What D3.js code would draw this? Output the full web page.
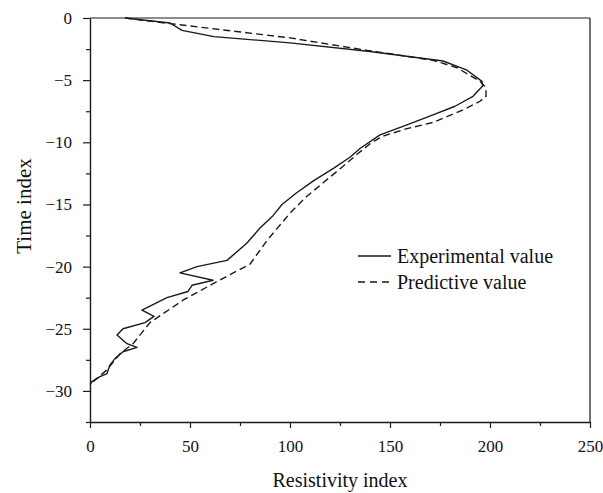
<!DOCTYPE html>
<html>
<head>
<meta charset="utf-8">
<script src="https://cdn.jsdelivr.net/npm/d3@7"></script>
<style>
  body { margin: 0; background: #fff; }
  svg text { font-family: "Liberation Serif", "Times New Roman", serif; fill: #111; }
</style>
</head>
<body>
<div id="chart"></div>
<script>
// Experimental value (solid)
const expValue = [17.5, 40, 46, 62, 100, 140, 176.5, 188.5, 196, 196.3, 191.5, 182.5, 171.5, 158.5, 145, 135, 130, 121.7, 111.7, 103, 96, 91.5, 85, 78.5, 68.5, 53.5, 45, 61.5, 51, 49, 38.5, 26, 32, 27.5, 16.5, 13.5, 18.5, 23.5, 16.5, 12.5, 10, 8.5, 5, 1, 0];
const expTime = [0, -0.4, -1.0, -1.5, -2.0, -2.7, -3.46, -4.2, -5.1, -5.47, -6.3, -7.1, -7.8, -8.6, -9.4, -10.5, -11.2, -12.1, -13.1, -14.1, -15.0, -15.9, -16.9, -18.1, -19.5, -20.0, -20.5, -21.1, -21.5, -22.0, -22.5, -23.5, -24.0, -24.5, -25.0, -25.5, -26.2, -26.5, -26.85, -27.4, -27.9, -28.6, -28.85, -29.25, -29.5];

// Predictive value (dashed)
const predValue = [17.5, 40, 100, 138.5, 171.5, 183.5, 195, 198, 198, 195, 186.5, 171.5, 158.5, 146.5, 141, 134, 126, 117, 108, 100, 88.5, 80, 63.5, 46.5, 30, 21.5, 15, 8.5, 1.5, 0];
const predTime = [0, -0.45, -1.6, -2.6, -3.4, -4.0, -5.1, -5.6, -6.3, -6.7, -7.4, -8.4, -8.9, -9.5, -10.0, -10.9, -12.0, -13.2, -14.4, -15.7, -17.9, -19.8, -21.2, -22.7, -24.5, -26.2, -27.0, -28.3, -29.25, -29.45];

const xTicks = [0, 50, 100, 150, 200, 250];
const xMinor = [25, 75, 125, 175, 225];
const yTicks = [0, -5, -10, -15, -20, -25, -30];
const yMinor = [-2.5, -7.5, -12.5, -17.5, -22.5, -27.5, -32.5];

const width = 603, height = 493;
const margin = { top: 18, right: 13, bottom: 71, left: 90 };

const svg = d3.select('#chart')
  .append('svg')
  .attr('width', width)
  .attr('height', height);

const x = d3.scaleLinear().domain([0, 250]).range([margin.left, width - margin.right]);
const y = d3.scaleLinear().domain([-32.5, 0]).range([height - margin.bottom, margin.top]);

const ink = '#1a1a1a';

// frame top / right
svg.append('line')
  .attr('x1', x(0)).attr('x2', x(250))
  .attr('y1', y(0)).attr('y2', y(0))
  .attr('stroke', ink).attr('stroke-width', 1.2);
svg.append('line')
  .attr('x1', x(250)).attr('x2', x(250))
  .attr('y1', y(0)).attr('y2', y(-32.5))
  .attr('stroke', ink).attr('stroke-width', 1.2);

// minor ticks
svg.append('g')
  .attr('transform', `translate(0,${y(-32.5)})`)
  .call(d3.axisBottom(x).tickValues(xMinor).tickSize(4).tickFormat(''))
  .call(g => g.select('.domain').remove());
svg.append('g')
  .attr('transform', `translate(${x(0)},0)`)
  .call(d3.axisLeft(y).tickValues(yMinor).tickSize(4).tickFormat(''))
  .call(g => g.select('.domain').remove());

const xAxis = svg.append('g')
  .attr('transform', `translate(0,${y(-32.5)})`)
  .call(d3.axisBottom(x).tickValues(xTicks).tickSize(6).tickSizeOuter(0).tickPadding(12));

const yAxis = svg.append('g')
  .attr('transform', `translate(${x(0)},0)`)
  .call(d3.axisLeft(y).tickValues(yTicks).tickSize(7).tickSizeOuter(0).tickPadding(11));

svg.selectAll('.tick line').attr('stroke', ink).attr('stroke-width', 1.2);
svg.selectAll('.domain').attr('stroke', ink).attr('stroke-width', 1.4);
svg.selectAll('.tick text')
  .style('font-family', '"Liberation Serif", serif')
  .style('font-size', '17px')
  .attr('fill', '#111');

// axis titles
svg.append('text')
  .attr('x', (x(0) + x(250)) / 2)
  .attr('y', 487)
  .attr('text-anchor', 'middle')
  .style('font-size', '20px')
  .text('Resistivity index');

svg.append('text')
  .attr('transform', `translate(31,${(y(0) + y(-32.5)) / 2 - 14}) rotate(-90)`)
  .attr('text-anchor', 'middle')
  .style('font-size', '21px')
  .text('Time index');

// series
const expData = expValue.map((v, i) => ({ v: v, t: expTime[i] }));
const predData = predValue.map((v, i) => ({ v: v, t: predTime[i] }));

const line = d3.line()
  .x(d => x(d.v))
  .y(d => y(d.t));

svg.append('path')
  .datum(predData)
  .attr('d', line)
  .attr('fill', 'none')
  .attr('stroke', ink)
  .attr('stroke-width', 1.4)
  .attr('stroke-dasharray', '7,4');

svg.append('path')
  .datum(expData)
  .attr('d', line)
  .attr('fill', 'none')
  .attr('stroke', ink)
  .attr('stroke-width', 1.4)
  .attr('stroke-linejoin', 'round');

// legend
const legend = svg.append('g');
const items = [
  { label: 'Experimental value', dash: null, y: 256 },
  { label: 'Predictive value', dash: '7,5', y: 282 }
];
items.forEach(it => {
  legend.append('line')
    .attr('x1', 358).attr('x2', 391)
    .attr('y1', it.y).attr('y2', it.y)
    .attr('stroke', ink)
    .attr('stroke-width', 1.4)
    .attr('stroke-dasharray', it.dash);
  legend.append('text')
    .attr('x', 397)
    .attr('y', it.y + 7)
    .style('font-size', '20px')
    .text(it.label);
});
</script>
</body>
</html>
